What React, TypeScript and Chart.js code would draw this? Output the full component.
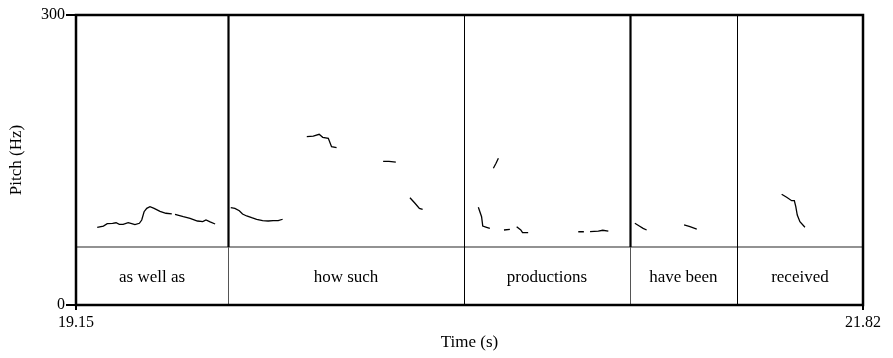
import { useEffect, useRef } from "react";
import { Chart, registerables } from "chart.js";

Chart.register(...registerables);

const X_MIN = 19.15;
const X_MAX = 21.82;
const Y_MIN = 0;
const Y_MAX = 300;
const xTicks = [19.15, 21.82];
const yTicks = [0, 300];
const TIER_TOP_HZ = 60;

const wordLabels = ["as well as", "how such", "productions", "have been", "received"];
const wordBoundaries = [19.666, 20.466, 21.029, 21.392];
const strongBoundary = [true, false, true, false];

// pitch track (s, Hz); null separates voiced stretches
const pitchTime = [
  19.222, 19.243, 19.256, 19.274, 19.286, 19.297, 19.31, 19.327, 19.339, 19.35, 19.365, 19.373, 19.381, 19.39, 19.401, 19.415, 19.435, 19.455, 19.475, null,
  19.486, 19.514, 19.537, 19.562, 19.58, 19.591, 19.605, 19.622, null,
  19.675, 19.689, 19.704, 19.715, 19.729, 19.746, 19.763, 19.783, 19.802, 19.819, 19.836, 19.851, null,
  19.933, 19.955, 19.975, 19.987, 20.006, 20.017, 20.034, null,
  20.192, 20.212, 20.235, null,
  20.283, 20.3, 20.315, 20.326, null,
  20.515, 20.526, 20.53, 20.543, 20.554, null,
  20.566, 20.575, 20.583, null,
  20.602, 20.622, null,
  20.645, 20.659, 20.665, 20.684, null,
  20.854, 20.873, null,
  20.894, 20.922, 20.937, 20.956, null,
  21.046, 21.061, 21.074, 21.086, null,
  21.213, 21.233, 21.256, null,
  21.544, 21.561, 21.578, 21.587, 21.592, 21.597, 21.606, 21.623,
];
const pitchHz = [
  80.4, 81.7, 84.1, 84.5, 85.1, 83.5, 83.5, 85.1, 84.1, 83.1, 84.5, 87.9, 96.5, 100.0, 101.7, 100.0, 96.9, 94.9, 94.2, null,
  93.8, 91.3, 89.7, 86.9, 86.2, 87.9, 85.9, 83.8, null,
  100.7, 100.0, 97.5, 94.1, 92.1, 90.3, 88.7, 87.2, 86.9, 87.2, 87.2, 88.7, null,
  174.1, 174.8, 176.6, 173.5, 172.4, 163.8, 162.7, null,
  148.6, 148.6, 147.9, null,
  111.0, 105.2, 100.0, 99.0, null,
  101.1, 91.3, 81.7, 80.4, 79.3, null,
  141.4, 146.6, 151.8, null,
  77.6, 78.3, null,
  81.0, 77.6, 74.8, 74.8, null,
  75.8, 75.8, null,
  75.8, 76.5, 77.3, 76.5, null,
  84.5, 81.7, 79.3, 77.6, null,
  82.8, 81.0, 78.6, null,
  114.5, 111.4, 107.9, 107.9, 101.7, 93.1, 86.2, 80.4,
];

const FONT = '"Liberation Serif", "Times New Roman", serif';

const tierPlugin = {
  id: "tierPlugin",
  afterDatasetsDraw(chart: any) {
    const { ctx, chartArea, scales } = chart;
    const xs = scales.x;
    const ys = scales.y;
    const tierY = ys.getPixelForValue(TIER_TOP_HZ);
    ctx.save();
    // tier separator
    ctx.strokeStyle = "#6e6e6e";
    ctx.lineWidth = 1.5;
    ctx.beginPath();
    ctx.moveTo(chartArea.left, tierY);
    ctx.lineTo(chartArea.right, tierY);
    ctx.stroke();
    // boundaries
    wordBoundaries.forEach((t, i) => {
      const px = Math.round(xs.getPixelForValue(t)) + 0.5;
      if (strongBoundary[i]) {
        ctx.strokeStyle = "#000";
        ctx.lineWidth = 2.2;
        ctx.beginPath();
        ctx.moveTo(px, chartArea.top);
        ctx.lineTo(px, tierY);
        ctx.stroke();
        ctx.strokeStyle = "#555";
        ctx.lineWidth = 1;
        ctx.beginPath();
        ctx.moveTo(px, tierY);
        ctx.lineTo(px, chartArea.bottom);
        ctx.stroke();
      } else {
        ctx.strokeStyle = "#000";
        ctx.lineWidth = 1;
        ctx.beginPath();
        ctx.moveTo(px, chartArea.top);
        ctx.lineTo(px, chartArea.bottom);
        ctx.stroke();
      }
    });
    // labels
    const edges = [X_MIN, ...wordBoundaries, X_MAX];
    ctx.fillStyle = "#000";
    ctx.font = `17px ${FONT}`;
    ctx.textAlign = "center";
    ctx.textBaseline = "middle";
    const midY = (tierY + chartArea.bottom) / 2 + 2;
    wordLabels.forEach((w, i) => {
      const cx = (xs.getPixelForValue(edges[i]) + xs.getPixelForValue(edges[i + 1])) / 2;
      ctx.fillText(w, cx, midY);
    });
    // frame
    ctx.strokeStyle = "#000";
    ctx.lineWidth = 2.5;
    ctx.strokeRect(chartArea.left, chartArea.top, chartArea.right - chartArea.left, chartArea.bottom - chartArea.top);
    ctx.restore();
  },
};

export default function App() {
  const ref = useRef<HTMLCanvasElement | null>(null);
  useEffect(() => {
    if (!ref.current) return;
    const points = pitchTime.map((t, i) => ({ x: t, y: pitchHz[i] }));
    const chart = new Chart(ref.current, {
      type: "scatter",
      data: {
        datasets: [
          {
            data: points as any,
            showLine: true,
            spanGaps: false,
            borderColor: "#000",
            borderWidth: 1.3,
            pointRadius: 0,
            tension: 0,
          },
        ],
      },
      options: {
        animation: false,
        responsive: false,
        maintainAspectRatio: false,
        layout: { padding: { top: 15, right: 30, left: 0, bottom: 0 } },
        plugins: { legend: { display: false }, tooltip: { enabled: false } },
        scales: {
          x: {
            type: "linear",
            min: X_MIN,
            max: X_MAX,
            afterBuildTicks: (s: any) => {
              s.ticks = xTicks.map((v) => ({ value: v }));
            },
            afterFit: (s: any) => {
              s.height = 53;
            },
            ticks: {
              color: "#000",
              font: { family: FONT, size: 16 },
              padding: 3,
              maxRotation: 0,
              callback: (v: any) => Number(v).toFixed(2),
            },
            grid: { drawOnChartArea: false, drawTicks: true, tickLength: 5, color: "#000", lineWidth: 2 },
            border: { display: false },
            title: {
              display: true,
              text: "Time (s)",
              color: "#000",
              font: { family: FONT, size: 17 },
              padding: { top: 0, bottom: 5 },
            },
          },
          y: {
            type: "linear",
            min: Y_MIN,
            max: Y_MAX,
            afterBuildTicks: (s: any) => {
              s.ticks = yTicks.map((v) => ({ value: v }));
            },
            afterFit: (s: any) => {
              s.width = 76;
            },
            ticks: {
              color: "#000",
              font: { family: FONT, size: 16 },
              padding: 1,
              callback: (v: any) => String(v),
            },
            grid: { drawOnChartArea: false, drawTicks: true, tickLength: 10, color: "#000", lineWidth: 2 },
            border: { display: false },
            title: {
              display: true,
              text: "Pitch (Hz)",
              color: "#000",
              font: { family: FONT, size: 17 },
              padding: { top: 6, bottom: 0 },
            },
          },
        },
      },
      plugins: [tierPlugin],
    });
    return () => chart.destroy();
  }, []);
  return (
    <div style={{ position: "fixed", left: 0, top: 0, width: 893, height: 358, background: "#fff" }}>
      <canvas ref={ref} width={893} height={358} style={{ width: 893, height: 358, display: "block" }} />
    </div>
  );
}
